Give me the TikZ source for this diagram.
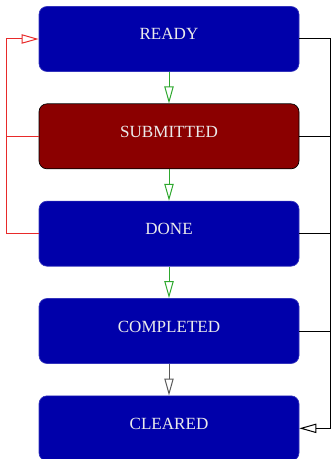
\documentclass[tikz,border=0pt]{standalone}
\usepackage{fontspec}
\setmainfont{Liberation Serif}
\usetikzlibrary{positioning,arrows.meta}
\definecolor{JobBlue}{HTML}{0000AA}
\definecolor{JobRed}{HTML}{8B0000}
\definecolor{JobGreen}{HTML}{2EA82E}
\definecolor{JobLine}{HTML}{E82A2A}
\begin{document}
\begin{tikzpicture}[
  node distance=23.75pt,
  jobstate/.style={rounded corners=6pt, draw=JobBlue!80!white, fill=JobBlue, text=white!92!black, minimum width=195pt, minimum height=48.75pt, align=center, font=\fontsize{12.8}{15}\selectfont, text height=9pt, text depth=7.5pt, line width=0.5pt},
  failstate/.style={jobstate, draw=black, fill=JobRed},
  head/.style={-{Triangle[open, length=12.75pt, width=7pt]}, line width=0.75pt},
  nextarrow/.style={head, draw=JobGreen},
  retryarrow/.style={head, draw=JobLine},
  cleararrow/.style={head, draw=black}
]
\useasboundingbox (0,0) rectangle (248.25pt,-344.25pt);
\node[jobstate] (ready) at (126.75pt,-29.25pt) {READY};
\node[failstate, below=of ready] (submitted) {SUBMITTED};
\node[jobstate, below=of submitted] (done) {DONE};
\node[jobstate, below=of done] (completed) {COMPLETED};
\node[jobstate, below=of completed] (cleared) {CLEARED};
\coordinate[left=24pt of ready.west] (lbus);
\coordinate[right=23.25pt of ready.east] (rbus);
% forward steps
\draw[nextarrow] (ready) -- (submitted);
\draw[nextarrow] (submitted) -- (done);
\draw[nextarrow] (done) -- (completed);
\draw[cleararrow, draw=black!65] (completed) -- (cleared);
% back to ready
\draw[retryarrow] (submitted.west) -| (lbus) -- (ready.west);
\draw[JobLine, line width=0.75pt] (done.west) -| (lbus);
% clear from any state
\draw[cleararrow] (ready.east) -| (rbus) |- (cleared.east);
\draw[black, line width=0.75pt] (submitted.east) -- (submitted.east -| rbus);
\draw[black, line width=0.75pt] (done.east) -- (done.east -| rbus);
\draw[black, line width=0.75pt] (completed.east) -- (completed.east -| rbus);
\end{tikzpicture}
\end{document}
